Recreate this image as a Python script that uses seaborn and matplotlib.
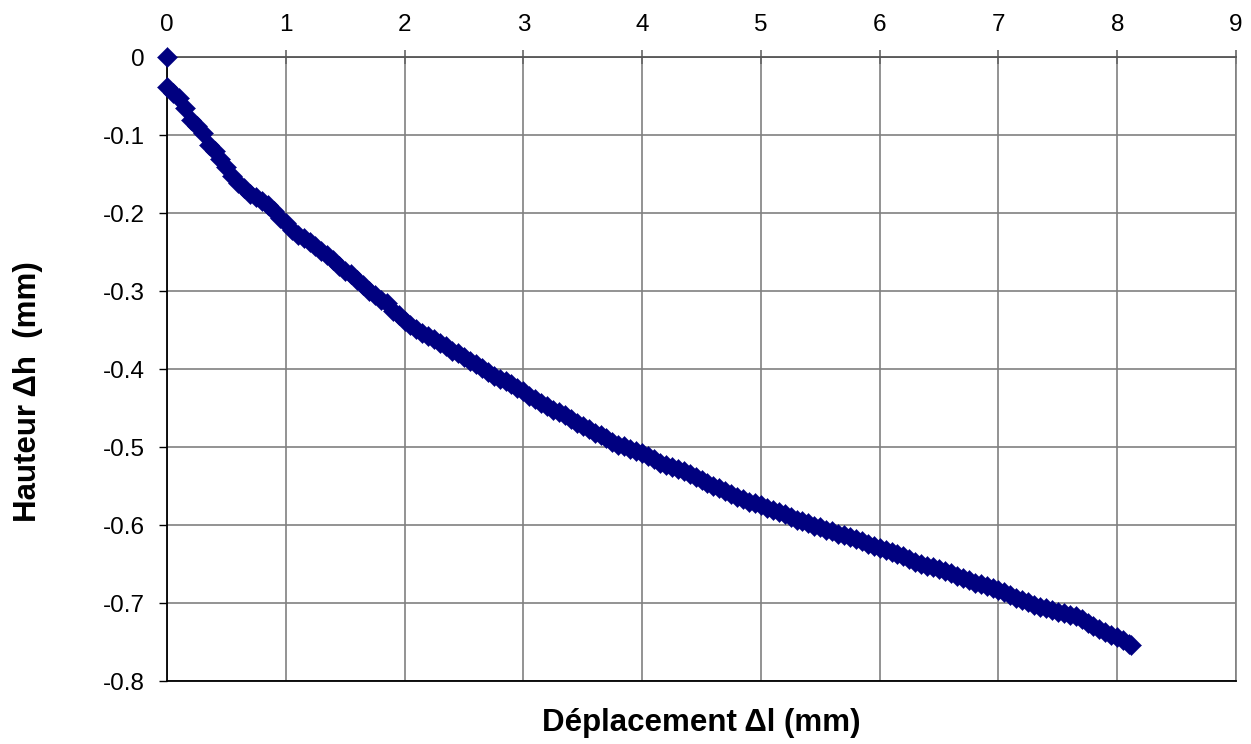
import matplotlib
matplotlib.use("Agg")
import matplotlib.pyplot as plt
import seaborn as sns
import pandas as pd

# Data
deplacement = [0.00,
    0.00, 0.05, 0.10, 0.15, 0.20, 0.25, 0.30, 0.35, 0.40, 0.45,
    0.50, 0.55, 0.60, 0.65, 0.70, 0.75, 0.80, 0.85, 0.90, 0.95,
    1.00, 1.05, 1.10, 1.15, 1.20, 1.25, 1.30, 1.35, 1.40, 1.45,
    1.50, 1.55, 1.60, 1.65, 1.70, 1.75, 1.80, 1.85, 1.90, 1.95,
    2.00, 2.05, 2.10, 2.15, 2.20, 2.25, 2.30, 2.35, 2.40, 2.45,
    2.50, 2.55, 2.60, 2.65, 2.70, 2.75, 2.80, 2.85, 2.90, 2.95,
    3.00, 3.05, 3.10, 3.15, 3.20, 3.25, 3.30, 3.35, 3.40, 3.45,
    3.50, 3.55, 3.60, 3.65, 3.70, 3.75, 3.80, 3.85, 3.90, 3.95,
    4.00, 4.05, 4.10, 4.15, 4.20, 4.25, 4.30, 4.35, 4.40, 4.45,
    4.50, 4.55, 4.60, 4.65, 4.70, 4.75, 4.80, 4.85, 4.90, 4.95,
    5.00, 5.05, 5.10, 5.15, 5.20, 5.25, 5.30, 5.35, 5.40, 5.45,
    5.50, 5.55, 5.60, 5.65, 5.70, 5.75, 5.80, 5.85, 5.90, 5.95,
    6.00, 6.05, 6.10, 6.15, 6.20, 6.25, 6.30, 6.35, 6.40, 6.45,
    6.50, 6.55, 6.60, 6.65, 6.70, 6.75, 6.80, 6.85, 6.90, 6.95,
    7.00, 7.05, 7.10, 7.15, 7.20, 7.25, 7.30, 7.35, 7.40, 7.45,
    7.50, 7.55, 7.60, 7.65, 7.70, 7.75, 7.80, 7.85, 7.90, 7.95,
    8.00, 8.05, 8.10, 8.12]

hauteur = [0.000,
    -0.038, -0.046, -0.053, -0.066, -0.081, -0.089, -0.098, -0.113, -0.121, -0.131,
    -0.141, -0.152, -0.162, -0.168, -0.175, -0.179, -0.184, -0.190, -0.197, -0.207,
    -0.213, -0.222, -0.228, -0.232, -0.237, -0.242, -0.249, -0.254, -0.260, -0.268,
    -0.274, -0.278, -0.286, -0.292, -0.300, -0.305, -0.312, -0.316, -0.325, -0.331,
    -0.338, -0.344, -0.349, -0.354, -0.358, -0.362, -0.367, -0.371, -0.377, -0.380,
    -0.385, -0.390, -0.394, -0.399, -0.404, -0.409, -0.413, -0.416, -0.419, -0.424,
    -0.428, -0.434, -0.439, -0.443, -0.447, -0.452, -0.455, -0.459, -0.464, -0.469,
    -0.473, -0.477, -0.482, -0.485, -0.489, -0.493, -0.497, -0.499, -0.502, -0.505,
    -0.508, -0.512, -0.516, -0.520, -0.523, -0.526, -0.528, -0.531, -0.534, -0.538,
    -0.542, -0.546, -0.550, -0.553, -0.557, -0.560, -0.564, -0.567, -0.570, -0.572,
    -0.574, -0.578, -0.581, -0.583, -0.586, -0.590, -0.593, -0.595, -0.598, -0.601,
    -0.603, -0.606, -0.608, -0.611, -0.613, -0.616, -0.618, -0.621, -0.624, -0.627,
    -0.630, -0.632, -0.635, -0.637, -0.640, -0.644, -0.647, -0.650, -0.652, -0.654,
    -0.656, -0.659, -0.662, -0.665, -0.668, -0.671, -0.674, -0.676, -0.678, -0.681,
    -0.683, -0.686, -0.690, -0.693, -0.696, -0.699, -0.702, -0.705, -0.707, -0.709,
    -0.711, -0.713, -0.715, -0.717, -0.721, -0.725, -0.729, -0.733, -0.737, -0.741,
    -0.744, -0.748, -0.752, -0.754]

x_ticks = [0, 1, 2, 3, 4, 5, 6, 7, 8, 9]
y_ticks = [0, -0.1, -0.2, -0.3, -0.4, -0.5, -0.6, -0.7, -0.8]
y_tick_labels = ["0", "-0.1", "-0.2", "-0.3", "-0.4", "-0.5", "-0.6", "-0.7", "-0.8"]

x_label = "Déplacement Δl (mm)"
y_label = "Hauteur Δh  (mm)"

df = pd.DataFrame({"x": deplacement, "y": hauteur})

sns.set_style("white")
plt.rcParams["font.family"] = ["Liberation Sans", "DejaVu Sans"]
plt.rcParams["text.color"] = "black"
plt.rcParams["xtick.color"] = "black"
plt.rcParams["ytick.color"] = "black"

fig = plt.figure(figsize=(12.51, 7.44), dpi=100)
ax = fig.add_axes([167 / 1251, 1 - 681 / 744, (1236 - 167) / 1251, (681 - 57) / 744])

grid_col = "#808080"
ax.set_axisbelow(True)
ax.grid(True, color=grid_col, linewidth=1.2)

sns.scatterplot(data=df, x="x", y="y", ax=ax, marker="D", s=105,
                color="#000080", edgecolor="#000080", linewidth=0.3,
                legend=False, zorder=3, clip_on=False)

ax.set_xlim(0, 9)
ax.set_ylim(-0.8, 0)
ax.set_xticks(x_ticks)
ax.set_xticklabels([str(t) for t in x_ticks])
ax.set_yticks(y_ticks)
ax.set_yticklabels(y_tick_labels)

ax.xaxis.tick_top()
ax.tick_params(axis="x", which="both", top=True, bottom=False, direction="inout",
               length=14 * 0.72, width=1.2, color="#666666", labelsize=17.5,
               pad=10, labelcolor="black")
ax.tick_params(axis="y", which="both", left=True, direction="out",
               length=6, width=1.0, color="black", labelsize=17.5, pad=10,
               labelcolor="black")

for side in ["left", "bottom"]:
    ax.spines[side].set_color("black")
    ax.spines[side].set_linewidth(1.3)
ax.spines["top"].set_color("#555555")
ax.spines["top"].set_linewidth(1.3)
ax.spines["right"].set_color(grid_col)
ax.spines["right"].set_linewidth(1.2)

ax.set_xlabel("")
ax.set_ylabel("")
fig.text(701 / 1251, 1 - 723 / 744, x_label, ha="center", va="center",
         fontsize=22.5, fontweight="bold", color="black")
fig.text(28 / 1251, 1 - 392 / 744, y_label, ha="center", va="center",
         rotation=90, fontsize=22.5, fontweight="bold", color="black")

fig.savefig("out.png", dpi=100)
